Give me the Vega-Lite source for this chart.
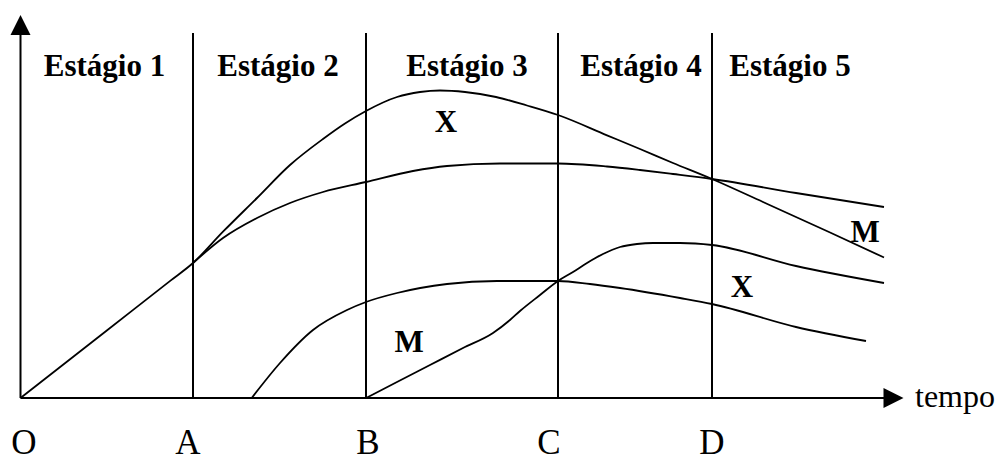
{
  "$schema": "https://vega.github.io/schema/vega-lite/v6.json",
  "autosize": "none",
  "width": 996,
  "height": 461,
  "padding": 0,
  "background": "white",
  "config": {"view": {"stroke": null}},
  "datasets": {
    "curves": [
      {"serie": "X1", "t": 0, "v": 0},
      {"serie": "X1", "t": 86, "v": 67.3},
      {"serie": "X1", "t": 150, "v": 117.4},
      {"serie": "X1", "t": 172.5, "v": 135},
      {"serie": "X1", "t": 202.5, "v": 166.3},
      {"serie": "X1", "t": 236.5, "v": 200},
      {"serie": "X1", "t": 269.5, "v": 233},
      {"serie": "X1", "t": 302.5, "v": 259},
      {"serie": "X1", "t": 324.5, "v": 274.5},
      {"serie": "X1", "t": 345.5, "v": 287},
      {"serie": "X1", "t": 376.5, "v": 301},
      {"serie": "X1", "t": 399.5, "v": 306},
      {"serie": "X1", "t": 419.5, "v": 307.5},
      {"serie": "X1", "t": 444.5, "v": 306},
      {"serie": "X1", "t": 475.5, "v": 301},
      {"serie": "X1", "t": 506.5, "v": 292.5},
      {"serie": "X1", "t": 537.5, "v": 283},
      {"serie": "X1", "t": 586.5, "v": 262.7},
      {"serie": "X1", "t": 619.5, "v": 249},
      {"serie": "X1", "t": 652.5, "v": 235},
      {"serie": "X1", "t": 691.5, "v": 219},
      {"serie": "X1", "t": 742.5, "v": 196},
      {"serie": "X1", "t": 808.5, "v": 166},
      {"serie": "X1", "t": 863.5, "v": 140.5},
      {"serie": "M1", "t": 172.5, "v": 135},
      {"serie": "M1", "t": 202.5, "v": 160},
      {"serie": "M1", "t": 236.5, "v": 180},
      {"serie": "M1", "t": 269.5, "v": 195},
      {"serie": "M1", "t": 302.5, "v": 206},
      {"serie": "M1", "t": 345.5, "v": 216},
      {"serie": "M1", "t": 392.5, "v": 227},
      {"serie": "M1", "t": 426.5, "v": 232},
      {"serie": "M1", "t": 479.5, "v": 234.5},
      {"serie": "M1", "t": 537.5, "v": 234.5},
      {"serie": "M1", "t": 586.5, "v": 231.5},
      {"serie": "M1", "t": 619.5, "v": 228},
      {"serie": "M1", "t": 652.5, "v": 224},
      {"serie": "M1", "t": 691.5, "v": 219},
      {"serie": "M1", "t": 775.5, "v": 205},
      {"serie": "M1", "t": 863.5, "v": 191},
      {"serie": "M2", "t": 231.2, "v": 0},
      {"serie": "M2", "t": 259.5, "v": 35},
      {"serie": "M2", "t": 292.5, "v": 68},
      {"serie": "M2", "t": 326.5, "v": 88},
      {"serie": "M2", "t": 345.5, "v": 96},
      {"serie": "M2", "t": 376.5, "v": 105},
      {"serie": "M2", "t": 426.5, "v": 114},
      {"serie": "M2", "t": 476.5, "v": 117},
      {"serie": "M2", "t": 537.5, "v": 117},
      {"serie": "M2", "t": 569.5, "v": 114},
      {"serie": "M2", "t": 599.5, "v": 110},
      {"serie": "M2", "t": 659.5, "v": 100},
      {"serie": "M2", "t": 691.5, "v": 94},
      {"serie": "M2", "t": 775.5, "v": 71},
      {"serie": "M2", "t": 845.5, "v": 57},
      {"serie": "X2", "t": 345.5, "v": 0},
      {"serie": "X2", "t": 376.5, "v": 16},
      {"serie": "X2", "t": 409.5, "v": 33},
      {"serie": "X2", "t": 442.5, "v": 50},
      {"serie": "X2", "t": 472.5, "v": 65},
      {"serie": "X2", "t": 489.5, "v": 78},
      {"serie": "X2", "t": 499.5, "v": 87},
      {"serie": "X2", "t": 519.5, "v": 103},
      {"serie": "X2", "t": 537.5, "v": 117},
      {"serie": "X2", "t": 552.5, "v": 126},
      {"serie": "X2", "t": 566.5, "v": 135},
      {"serie": "X2", "t": 582.5, "v": 144},
      {"serie": "X2", "t": 599.5, "v": 151},
      {"serie": "X2", "t": 616.5, "v": 154},
      {"serie": "X2", "t": 632.5, "v": 155},
      {"serie": "X2", "t": 659.5, "v": 155},
      {"serie": "X2", "t": 691.5, "v": 153},
      {"serie": "X2", "t": 775.5, "v": 132},
      {"serie": "X2", "t": 863.5, "v": 115}
    ],
    "stages": [
      {"nome": "A", "t": 172.5, "v0": 0, "v1": 365},
      {"nome": "B", "t": 345.5, "v0": 0, "v1": 365},
      {"nome": "C", "t": 537.5, "v0": 0, "v1": 365},
      {"nome": "D", "t": 691.5, "v0": 0, "v1": 365}
    ],
    "stageLabels": [
      {"texto": "Estágio 1", "t": 84, "v": 322},
      {"texto": "Estágio 2", "t": 257.5, "v": 322},
      {"texto": "Estágio 3", "t": 446.5, "v": 322},
      {"texto": "Estágio 4", "t": 620.5, "v": 322},
      {"texto": "Estágio 5", "t": 769.5, "v": 322}
    ],
    "curveLabels": [
      {"texto": "X", "t": 425.5, "v": 266},
      {"texto": "M", "t": 388.5, "v": 46},
      {"texto": "M", "t": 844.5, "v": 156},
      {"texto": "X", "t": 721.5, "v": 101}
    ],
    "pointLabels": [
      {"texto": "O", "t": 3.5, "v": -63},
      {"texto": "A", "t": 167.5, "v": -63},
      {"texto": "B", "t": 347.5, "v": -63},
      {"texto": "C", "t": 528.5, "v": -63},
      {"texto": "D", "t": 691.5, "v": -63}
    ]
  },
  "layer": [
    {
      "data": {"values": [{"t": 0, "v0": 0, "v1": 363}]},
      "mark": {"type": "rule", "stroke": "black", "strokeWidth": 2},
      "encoding": {
        "x": {"field": "t", "type": "quantitative", "scale": {"domain": [-20.5, 975.5], "nice": false, "zero": false}, "axis": null},
        "y": {"field": "v0", "type": "quantitative", "scale": {"domain": [-63, 398], "nice": false, "zero": false}, "axis": null},
        "y2": {"field": "v1"}
      }
    },
    {
      "data": {"values": [{"t0": 0, "t1": 864, "v": 0}]},
      "mark": {"type": "rule", "stroke": "black", "strokeWidth": 2},
      "encoding": {
        "x": {"field": "t0", "type": "quantitative", "scale": {"domain": [-20.5, 975.5], "nice": false, "zero": false}, "axis": null},
        "x2": {"field": "t1"},
        "y": {"field": "v", "type": "quantitative", "scale": {"domain": [-63, 398], "nice": false, "zero": false}, "axis": null}
      }
    },
    {
      "data": {"name": "stages"},
      "mark": {"type": "rule", "stroke": "black", "strokeWidth": 2},
      "encoding": {
        "x": {"field": "t", "type": "quantitative", "scale": {"domain": [-20.5, 975.5], "nice": false, "zero": false}, "axis": null},
        "y": {"field": "v0", "type": "quantitative", "scale": {"domain": [-63, 398], "nice": false, "zero": false}, "axis": null},
        "y2": {"field": "v1"}
      }
    },
    {
      "data": {"values": [{"t": 0, "v": 373}]},
      "mark": {"type": "point", "shape": "M-1,1L1,1L0,-1Z", "size": 400, "filled": true, "fill": "black", "stroke": null, "opacity": 1},
      "encoding": {
        "x": {"field": "t", "type": "quantitative", "scale": {"domain": [-20.5, 975.5], "nice": false, "zero": false}, "axis": null},
        "y": {"field": "v", "type": "quantitative", "scale": {"domain": [-63, 398], "nice": false, "zero": false}, "axis": null}
      }
    },
    {
      "data": {"values": [{"t": 873, "v": 0}]},
      "mark": {"type": "point", "shape": "M-1,-1L-1,1L1,0Z", "size": 400, "filled": true, "fill": "black", "stroke": null, "opacity": 1},
      "encoding": {
        "x": {"field": "t", "type": "quantitative", "scale": {"domain": [-20.5, 975.5], "nice": false, "zero": false}, "axis": null},
        "y": {"field": "v", "type": "quantitative", "scale": {"domain": [-63, 398], "nice": false, "zero": false}, "axis": null}
      }
    },
    {
      "data": {"name": "curves"},
      "mark": {"type": "line", "interpolate": "monotone", "stroke": "black", "strokeWidth": 1.8},
      "encoding": {
        "x": {"field": "t", "type": "quantitative", "scale": {"domain": [-20.5, 975.5], "nice": false, "zero": false}, "axis": null},
        "y": {"field": "v", "type": "quantitative", "scale": {"domain": [-63, 398], "nice": false, "zero": false}, "axis": null},
        "detail": {"field": "serie", "type": "nominal"}
      }
    },
    {
      "data": {"name": "stageLabels"},
      "mark": {"type": "text", "font": "Liberation Serif", "fontWeight": "bold", "fontSize": 31, "align": "center", "baseline": "alphabetic", "fill": "black"},
      "encoding": {
        "x": {"field": "t", "type": "quantitative", "scale": {"domain": [-20.5, 975.5], "nice": false, "zero": false}, "axis": null},
        "y": {"field": "v", "type": "quantitative", "scale": {"domain": [-63, 398], "nice": false, "zero": false}, "axis": null},
        "text": {"field": "texto"}
      }
    },
    {
      "data": {"name": "curveLabels"},
      "mark": {"type": "text", "font": "Liberation Serif", "fontWeight": "bold", "fontSize": 31, "align": "center", "baseline": "alphabetic", "fill": "black"},
      "encoding": {
        "x": {"field": "t", "type": "quantitative", "scale": {"domain": [-20.5, 975.5], "nice": false, "zero": false}, "axis": null},
        "y": {"field": "v", "type": "quantitative", "scale": {"domain": [-63, 398], "nice": false, "zero": false}, "axis": null},
        "text": {"field": "texto"}
      }
    },
    {
      "data": {"name": "pointLabels"},
      "mark": {"type": "text", "font": "Liberation Serif", "fontSize": 35, "align": "center", "baseline": "bottom", "fill": "black"},
      "encoding": {
        "x": {"field": "t", "type": "quantitative", "scale": {"domain": [-20.5, 975.5], "nice": false, "zero": false}, "axis": null},
        "y": {"field": "v", "type": "quantitative", "scale": {"domain": [-63, 398], "nice": false, "zero": false}, "axis": null},
        "text": {"field": "texto"}
      }
    },
    {
      "data": {"values": [{"texto": "tempo", "t": 894.5, "v": -9}]},
      "mark": {"type": "text", "font": "Liberation Serif", "fontSize": 32, "align": "left", "baseline": "alphabetic", "fill": "black"},
      "encoding": {
        "x": {"field": "t", "type": "quantitative", "scale": {"domain": [-20.5, 975.5], "nice": false, "zero": false}, "axis": null},
        "y": {"field": "v", "type": "quantitative", "scale": {"domain": [-63, 398], "nice": false, "zero": false}, "axis": null},
        "text": {"field": "texto"}
      }
    }
  ]
}
